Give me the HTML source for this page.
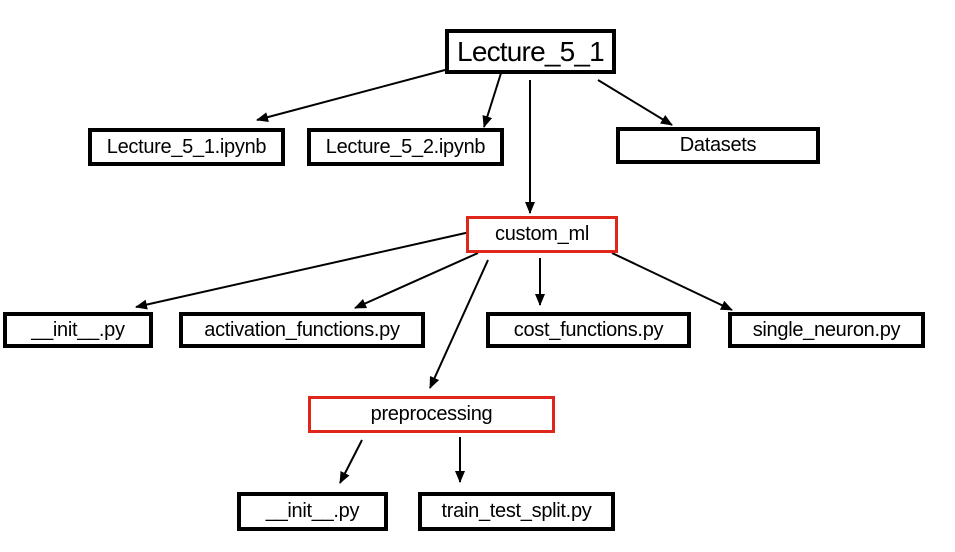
<!DOCTYPE html>
<html><head><style>
body{margin:0;width:955px;height:552px;background:#fff;position:relative;overflow:hidden;font-family:"Liberation Sans",Arial,sans-serif}
.b{position:absolute;box-sizing:border-box;border:4px solid #000;display:flex;align-items:center;justify-content:center;font-size:20px;color:#000;background:#fff;letter-spacing:-0.3px;white-space:nowrap}
.r{border:3px solid #e0251b}
</style></head><body>
<svg width="955" height="552" style="position:absolute;left:0;top:0">
<defs><marker id="b" markerWidth="12" markerHeight="10" refX="11" refY="5" orient="auto" markerUnits="userSpaceOnUse"><path d="M0,0 L12,5 L0,10 z" fill="#000"/></marker></defs>
<g stroke="#000" stroke-width="2" fill="none" marker-end="url(#b)">
<line x1="445" y1="70" x2="257" y2="120"/>
<line x1="502" y1="70" x2="484" y2="127"/>
<line x1="530" y1="80" x2="530" y2="213"/>
<line x1="598" y1="80" x2="672" y2="125"/>
<line x1="470" y1="232" x2="136" y2="307"/>
<line x1="478" y1="253" x2="355" y2="308"/>
<line x1="540" y1="258" x2="540" y2="305"/>
<line x1="612" y1="253" x2="732" y2="310"/>
<line x1="488" y1="260" x2="430" y2="388"/>
<line x1="362" y1="440" x2="340" y2="483"/>
<line x1="460" y1="437" x2="460" y2="482"/>
</g></svg>
<div class="b" style="left:445px;top:29px;width:171px;height:45px;font-size:28px;letter-spacing:-0.8px">Lecture_5_1</div>
<div class="b" style="left:88px;top:128px;width:197px;height:38px">Lecture_5_1.ipynb</div>
<div class="b" style="left:307px;top:128px;width:197px;height:38px">Lecture_5_2.ipynb</div>
<div class="b" style="left:616px;top:127px;width:204px;height:37px">Datasets</div>
<div class="b r" style="left:466px;top:216px;width:152px;height:37px">custom_ml</div>
<div class="b" style="left:3px;top:312px;width:150px;height:36px">__init__.py</div>
<div class="b" style="left:179px;top:312px;width:246px;height:36px">activation_functions.py</div>
<div class="b" style="left:486px;top:312px;width:205px;height:36px">cost_functions.py</div>
<div class="b" style="left:728px;top:312px;width:197px;height:36px">single_neuron.py</div>
<div class="b r" style="left:308px;top:396px;width:247px;height:37px">preprocessing</div>
<div class="b" style="left:237px;top:492px;width:151px;height:39px">__init__.py</div>
<div class="b" style="left:418px;top:492px;width:197px;height:39px">train_test_split.py</div>
</body></html>
